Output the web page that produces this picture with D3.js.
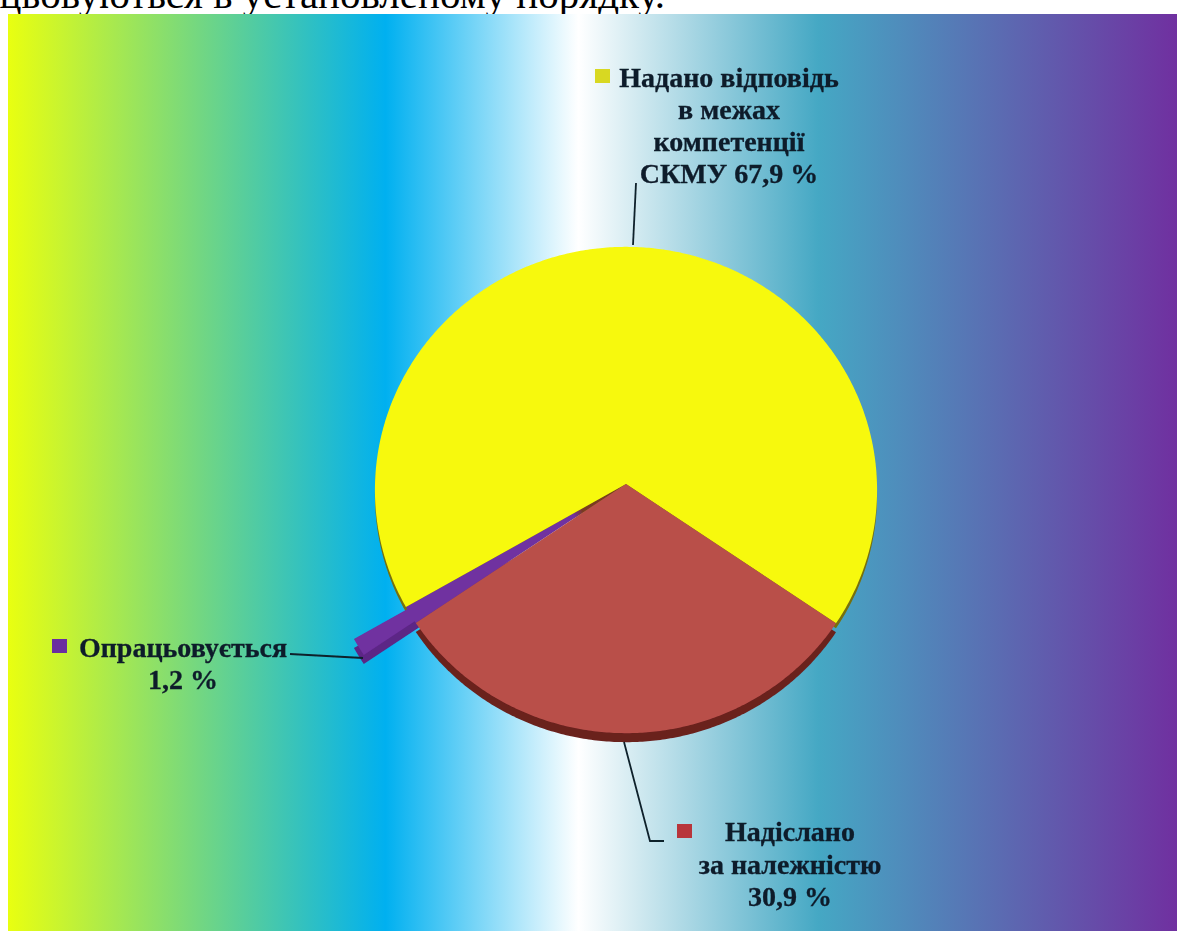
<!DOCTYPE html>
<html><head><meta charset="utf-8">
<script src="https://cdn.jsdelivr.net/npm/d3@7"></script>
<style>html,body{margin:0;padding:0;background:#fff;overflow:hidden}svg{display:block}</style>
</head><body>
<svg id="c" width="1177" height="931"></svg>
<script>
const categories = ["Надано відповідь в межах компетенції СКМУ", "Надіслано за належністю", "Опрацьовується"];
const shares = [67.9, 30.9, 1.2];
const shareLabels = ["67,9 %", "30,9 %", "1,2 %"];
const sliceColors = ["#f7f90c", "#b9504a", "#7030a0"];
const depthColors = ["#77700a", "#6a201e", "#5c2586"];
const keyColors = ["#d8d820", "#b8363a", "#6a2fa0"];

const W = 1177, H = 931;
const svg = d3.select("#c");
const defs = svg.append("defs");

const grad = defs.append("linearGradient").attr("id","bg").attr("gradientUnits","userSpaceOnUse")
  .attr("x1",8).attr("x2",1177).attr("y1",0).attr("y2",0);
[[0,"#e9ff10"],[0.323,"#00b0f0"],[0.488,"#ffffff"],[0.693,"#45a8c4"],[1,"#7030a0"]]
  .forEach(([o,c])=>grad.append("stop").attr("offset",o).attr("stop-color",c));

const hollow = defs.append("linearGradient").attr("id","hollow").attr("gradientUnits","userSpaceOnUse")
  .attr("x1",626).attr("y1",484).attr("x2",404).attr("y2",607);
[[0,"#7a3a20"],[0.2,"#7a3a20"],[0.24,"#7030a0"],[1,"#7030a0"]]
  .forEach(([o,c])=>hollow.append("stop").attr("offset",o).attr("stop-color",c));

const soft = defs.append("filter").attr("id","soft").attr("x","-5%").attr("y","-5%").attr("width","110%").attr("height","110%");
soft.append("feGaussianBlur").attr("stdDeviation",0.7);
const softT = defs.append("filter").attr("id","softT").attr("x","-5%").attr("y","-20%").attr("width","110%").attr("height","140%");
softT.append("feGaussianBlur").attr("stdDeviation",0.5);

svg.append("text").attr("x",665).attr("y",8).attr("text-anchor","end")
  .attr("font-family","'Liberation Serif'").attr("font-size",41).attr("fill","#000")
  .text("опрацьовуються в установленому порядку.");

svg.append("rect").attr("x",8).attr("y",14).attr("width",W-8).attr("height",H-14).attr("fill","url(#bg)");

// tilted pie: a disc projected with slight perspective, apex off the ellipse centre
const apex = {x:626, y:484}, k = 0.0247;
const sx = d3.scaleLinear().domain([-1,1]).range([-251,251]);
const sy = d3.scaleLinear().domain([-1,1]).range([-243,243]);
const project = (a,dx,dy)=>{
  const ux = Math.sin(a), uy = -Math.cos(a), w = 1 - k*uy;
  return [apex.x + dx + sx(ux)/w, apex.y + dy + sy(uy)/w];
};
const pie = d3.pie().sort(null).value(d=>d).startAngle(-120*Math.PI/180).endAngle(240*Math.PI/180);
const arcs = pie(shares);
const line = d3.line();
const slicePath = (d,dx,dy)=>{
  const n = Math.max(2, Math.ceil((d.endAngle-d.startAngle)/0.01));
  const rim = d3.range(n+1).map(i=>project(d.startAngle+(d.endAngle-d.startAngle)*i/n,dx,dy));
  return line([[apex.x+dx,apex.y+dy],...rim])+"Z";
};
const explode = {x:-52,y:32};
const depth = 9;

const g = svg.append("g").attr("filter","url(#soft)");
// side walls
[0,1].forEach(i=>g.append("path").attr("d",slicePath(arcs[i],0,i===0?5:depth)).attr("fill",depthColors[i]));
// exploded sliver and the hollow it leaves
g.append("path").attr("d",slicePath(arcs[2],explode.x,explode.y+depth)).attr("fill",depthColors[2]);
g.append("path").attr("d",slicePath(arcs[2],explode.x,explode.y)).attr("fill",sliceColors[2]);
g.append("path").attr("d",slicePath(arcs[2],0,0)).attr("fill","url(#hollow)");
// top faces
[0,1].forEach(i=>g.append("path").attr("d",slicePath(arcs[i],0,0)).attr("fill",sliceColors[i]));

// leader lines
const leaders = [
  [[636,183],[633,245]],
  [[624,742],[650,841],[664,841]],
  [[290,654],[363,658]]
];
const lg = svg.append("g").attr("filter","url(#softT)");
leaders.forEach(p=>lg.append("path").attr("d",line(p)).attr("fill","none").attr("stroke","#10202c").attr("stroke-width",1.8));

// labels
const labelLines = [
  ["Надано відповідь","в межах","компетенції","СКМУ  "+shareLabels[0]],
  ["Надіслано","за належністю",shareLabels[1]],
  ["Опрацьовується",shareLabels[2]]
];
const labelPos = [{x:729,y:87,lh:32},{x:790,y:841,lh:32.5},{x:183,y:657,lh:32}];
const keyPos = [{x:595,y:69},{x:677,y:824},{x:52,y:639}];
const tg = svg.append("g").attr("filter","url(#softT)");
labelLines.forEach((ls,i)=>{
  ls.forEach((t,j)=>tg.append("text").attr("x",labelPos[i].x).attr("y",labelPos[i].y+j*labelPos[i].lh)
    .attr("text-anchor","middle").attr("font-family","'Liberation Serif'").attr("font-weight","bold")
    .attr("font-size",28).attr("fill","#0d1b2a").attr("stroke","#0d1b2a").attr("stroke-width",0.3).text(t));
  tg.append("rect").attr("x",keyPos[i].x).attr("y",keyPos[i].y).attr("width",15).attr("height",14).attr("fill",keyColors[i]);
});
</script>
</body></html>
